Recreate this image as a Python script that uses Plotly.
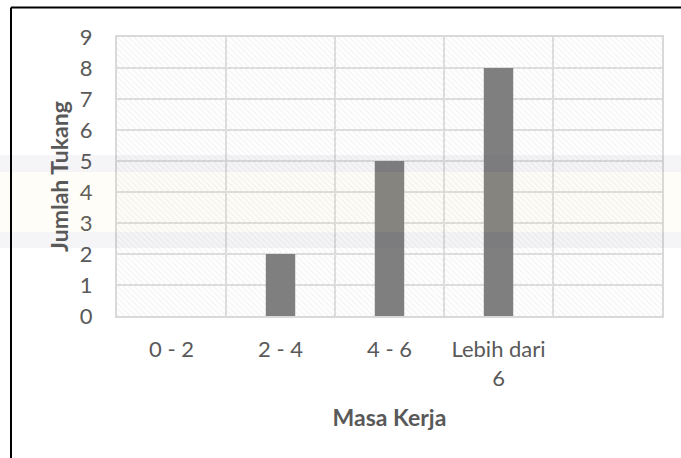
import plotly.graph_objects as go

# Data: number of workers (tukang) by years of work experience (masa kerja)
categories = ["0 - 2", "2 - 4", "4 - 6", "Lebih dari<br>6", " "]
jumlah_tukang = [0, 2, 5, 8, None]
y_ticks = list(range(0, 10))
y_max = 9

text_color = "#595959"
grid_color = "#d9d9d9"
font_family = "Lato, 'Open Sans', sans-serif"

fig = go.Figure()

# Light diagonal hatch filling the plot area
fig.add_trace(go.Bar(
    x=categories,
    y=[y_max] * len(categories),
    width=1,
    marker=dict(
        color="rgba(0,0,0,0)",
        line=dict(width=0),
        pattern=dict(shape="\\", fgcolor="#ebebeb", bgcolor="rgba(0,0,0,0)",
                     size=4, solidity=0.4),
    ),
    hoverinfo="skip",
    showlegend=False,
))

# Data bars
fig.add_trace(go.Bar(
    x=categories,
    y=jumlah_tukang,
    width=0.27,
    marker=dict(color="#7f7f7f", line=dict(width=0)),
    showlegend=False,
))

# Faint horizontal tint bands across the page
def band(y0, y1, color):
    return dict(type="rect", xref="paper", yref="paper",
                x0=-0.215, x1=1.04, y0=y0, y1=y1,
                fillcolor=color, line=dict(width=0), layer="above")

shapes = [
    band(0.516, 0.577, "rgba(90,90,125,0.06)"),
    band(0.301, 0.516, "rgba(235,215,120,0.06)"),
    band(0.244, 0.301, "rgba(90,90,125,0.06)"),
    # outer frame (left and top edges)
    dict(type="line", xref="paper", yref="paper", x0=-0.1945, x1=-0.1945,
         y0=-0.52, y1=1.1057, line=dict(color="black", width=2)),
    dict(type="line", xref="paper", yref="paper", x0=-0.1945, x1=1.04,
         y0=1.1057, y1=1.1057, line=dict(color="black", width=2)),
]

fig.update_layout(
    width=681, height=458,
    margin=dict(l=117, r=19, t=37, b=142),
    paper_bgcolor="white",
    plot_bgcolor="rgba(0,0,0,0)",
    barmode="overlay",
    font=dict(family=font_family, size=22, color=text_color),
    shapes=shapes,
    xaxis=dict(
        type="category",
        categoryorder="array", categoryarray=categories,
        tickson="boundaries",
        showgrid=True, gridcolor=grid_color, gridwidth=2,
        showline=True, linecolor=grid_color, linewidth=2, mirror=True,
        ticks="", ticklabelstandoff=13,
        title=dict(text="<b>Masa Kerja</b>", font=dict(size=23, color=text_color),
                   standoff=20),
        fixedrange=True,
    ),
    yaxis=dict(
        range=[0, y_max],
        tickvals=y_ticks,
        showgrid=True, gridcolor=grid_color, gridwidth=2,
        zeroline=False,
        showline=True, linecolor=grid_color, linewidth=2, mirror=True,
        ticks="", ticklabelstandoff=18,
        title=dict(text="<b>Jumlah Tukang</b>", font=dict(size=23, color=text_color),
                   standoff=5),
        fixedrange=True,
    ),
)

fig.write_html("out.html")
